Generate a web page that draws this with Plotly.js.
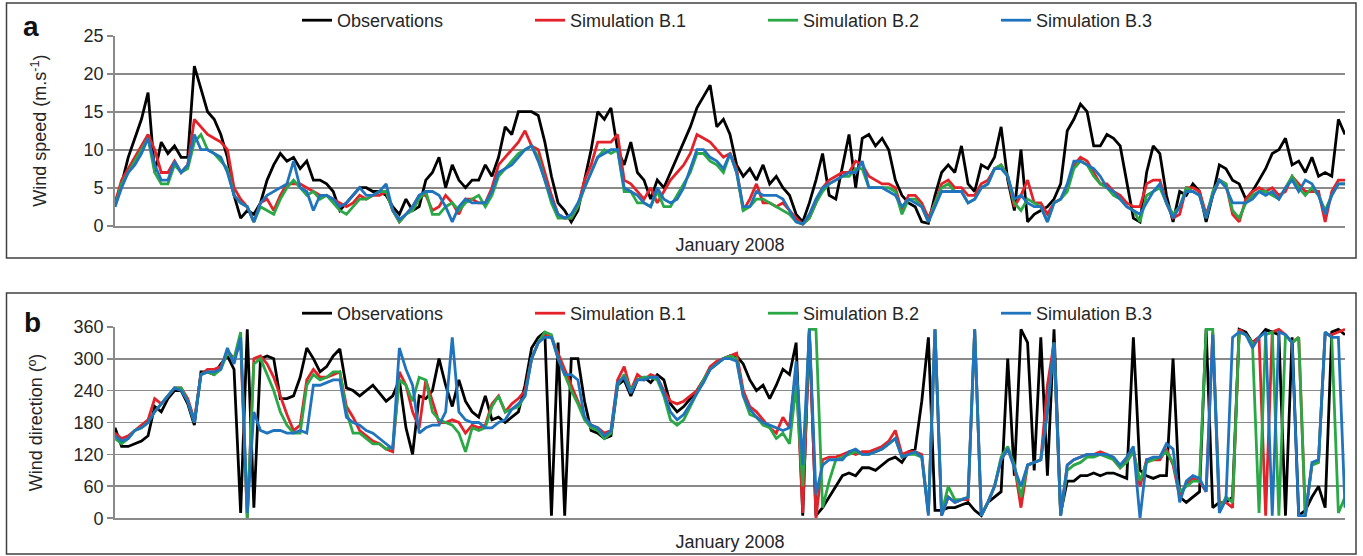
<!DOCTYPE html>
<html>
<head>
<meta charset="utf-8">
<script src="https://cdn.plot.ly/plotly-3.0.1.min.js"></script>
<style>
  html, body { margin: 0; padding: 0; background: #fff; }
  #chart { width: 1363px; height: 556px; }
</style>
</head>
<body>
<div id="chart"></div>
<script>
// Hourly station record for January 2008, sampled every 4 hours.
const seriesNames = ['Observations', 'Simulation B.1', 'Simulation B.2', 'Simulation B.3'];

// Wind speed (m/s)
const speedObs = [3,5.5,9,11.5,14,17.5,7,11,9.5,10.5,9,9,21,18,15,14,12,9,4,1,2,1.5,3,6,8,9.5,8.5,9,7.5,8.5,6,6,5.5,4.5,2,3,4,5,5,4.5,4.5,4,2.5,1.5,3.5,2,2.5,6,7,9,5,8,6,5,6,6,8,6.5,9,13,12,15,15,15,14.5,11,6.5,3,2,0.5,2,6,10,15,14,15.5,10,8,11,7,6,3.5,6,5,7,9,11,13,15.5,17,18.5,13,14,12,8,6.5,7.5,6,8,5.5,6.5,5,4,1.5,0.5,3,6,9.5,4,3.5,8,12,5,11.5,12,10.5,11.5,10,6,4,3,2.5,0.5,0.3,4,7,8,7,10.5,5.5,4.5,8,7.5,9,13,6,2,10,0.5,1.5,2,2.5,3.5,5.5,12.5,14,16,15,10.5,10.5,12,11.5,10.5,6,1,0.5,7,10.5,9.5,4,0.5,4.5,4,5.5,4.5,0.5,4,8,7.5,6,5.5,3.5,4.5,6,7.5,9.5,10,11.5,8,8.5,7,9,6.5,7,6.5,14,12];
const speedB1 = [3,6,7.5,9,10.5,12,10,7,7,8.5,7,8,14,13,12,11.5,11,10,5,3.5,2.5,0.5,3,3.5,2,4,5.5,5.5,5.5,5,4.5,4,4,3.5,3,2.5,3,4,3.5,4,4,4.5,2,0.5,1.5,2.5,4,4,2,2.5,4,3,1.5,3.5,3.5,3,3,5,8,9,10,11,12.5,10.5,10,7,4,1.5,1,1,2.5,6,8,11,11,11,12,6,5.5,4.5,3.5,5,3,4.5,6,7,8,9.5,12,11.5,11,10,9,9.5,7.5,2,3.5,5.5,3,3,2.5,3,2,1,0.2,1,3,5,6,6.5,7,7,8.5,8,6.5,6,5.5,5.5,5,2,4,4,3,1,3,5.5,6,5,5,4,4,5.5,6,7.5,8,6.5,2.5,4,6,3,3,1.5,3,3.5,5,8,9,8.5,7,5.5,5.5,4.5,4,3,2.5,2.5,5.5,6,6,3,1,1.5,5,5,4.5,1.5,4,6,5.5,1.5,0.5,3.5,4.5,5,4.5,5,4,4.5,6.5,5.5,4.5,4.5,4.5,0.5,4.5,6,6];
const speedB2 = [2.5,5.5,7,8.5,10,11.5,7,5.5,5.5,8,7,7.5,11,12,10,9.5,8.5,7.5,4,3,2.5,0.5,2.5,2,1.5,3.5,5,6,5,4,4.5,3.5,4,3,2,1.5,2.5,3.5,3.5,4,4.5,4.5,2,0.5,1.5,2,3.5,4.5,1.5,1.5,2.5,3,2,3,3.5,4,2.5,4,6.5,7.5,8.5,9.5,10,10.5,9,6,3,1,1,1,2.5,5,7,9,10,9.5,10,4.5,4.5,3,3,2.5,4.5,2.5,2.5,4,5.5,7,9.5,9.5,8.5,8,7,9.5,7,2,2.5,3.5,3.5,3,2.5,2,1.5,0.5,0.2,1,3,4.5,5.5,6,6.5,6.5,7.5,7.5,5,5,5,5,4.5,1.5,3.5,3.5,2.5,0.5,3,5,5.5,4.5,4.5,3,3.5,5,5.5,7.5,8,6.5,3,2,3.5,3,2.5,0.5,3,3.5,4.5,7.5,8.5,8,6.5,5.5,5,4,3.5,2.5,2,0.5,4,4.5,5,3,1.5,2.5,5,4.5,4,1,4.5,6,5.5,2,1,3,4,4.5,4.5,4,3.5,5,6.5,5,4,5,4,2,4,5.5,5.5];
const speedB3 = [2.5,5,7,8,9.5,11.5,8,6,6,8.5,7,8,12,10,10,9.5,9,7,4,3,2.5,0.5,3,4,4.5,5,5.5,8.5,5,4.5,2,4,4,3.5,2.5,3,4,5,4,4,4.5,5.5,2,0.8,1.5,2.5,4,4.5,4.5,4,2.5,0.5,2.5,3.5,3,3,3,4.5,7,7.5,8,9,10,10.5,8.5,6,3.5,1.5,1,1.5,3,5,7,9,9.5,10,10,5,4.5,4,3,2.5,5,3.5,3,3.5,5,7.5,10,10,9,8.5,7.5,9.5,7,2.5,2.5,4.5,4,4,4,3.5,2,0.5,0.2,1.5,3.5,5,5.5,6,6.5,7,7,8.5,5,5,5,4.5,4,2.5,3.5,3,2.5,0.5,2.5,4.5,4.5,4.5,4.5,3,3.5,5,5.5,7.5,7.5,6.5,3.5,4,3,2.5,2.5,0.5,3,3.5,5.5,8.5,8.5,8,7.5,6.5,5,4.5,3.5,2.5,2,1.5,3,4.5,5.5,3,1,2.5,4.5,4.5,4,1,4,6,5,3,3,3,3.5,4.5,4,4.5,3.5,5,6,4.5,6,5.5,4,1.5,4,5.5,5.5];

// Wind direction (degrees)
const dirObs = [170,135,135,140,145,155,210,200,225,240,240,215,175,275,275,270,290,305,280,10,355,20,300,305,300,225,225,230,265,320,300,275,285,305,318,245,240,230,240,250,235,220,230,260,170,120,230,225,240,300,250,210,260,220,200,190,230,185,190,180,190,200,250,320,340,350,5,330,5,300,300,220,165,160,150,155,250,260,230,260,265,255,270,260,215,200,210,225,240,260,280,290,300,305,305,290,260,240,250,225,250,280,270,330,5,350,5,20,40,60,80,85,80,95,95,90,100,110,115,105,125,130,220,340,15,15,20,20,25,30,15,5,30,40,50,300,80,355,330,90,340,80,355,10,70,70,80,80,85,80,85,85,80,75,340,90,80,75,80,80,300,40,30,40,50,355,20,30,30,40,355,350,330,340,355,350,345,5,340,5,15,40,60,20,350,355,345];
const dirB1 = [160,150,155,165,175,185,225,215,230,245,245,225,185,270,280,280,285,315,300,330,0,300,305,290,265,230,195,165,175,260,280,265,265,270,275,210,190,165,155,145,140,130,125,275,250,200,170,260,220,180,180,185,180,160,175,170,175,215,230,200,215,225,240,300,330,345,340,310,280,250,220,190,175,170,160,165,260,285,240,270,260,270,265,240,220,215,220,230,240,260,285,295,300,305,310,240,210,200,185,170,160,190,170,280,10,355,0,110,115,115,120,125,120,125,125,130,135,145,165,120,125,125,120,10,355,5,40,30,35,35,355,5,30,60,110,130,100,20,100,105,110,250,330,5,100,110,115,120,120,125,120,110,95,110,130,60,110,110,110,130,100,40,65,75,70,50,350,30,30,20,355,345,330,340,5,350,355,345,330,340,5,100,110,345,345,350,355];
const dirB2 = [150,140,150,165,170,180,200,215,230,245,245,220,180,270,275,270,280,310,300,350,0,290,300,270,240,200,175,160,160,250,270,260,265,275,275,200,160,160,150,140,140,130,135,260,250,220,265,260,200,185,180,175,160,125,170,165,170,210,230,200,205,210,230,300,330,350,345,300,270,240,215,185,170,165,150,160,250,270,240,260,265,265,260,230,185,175,185,210,235,260,280,290,300,305,300,230,195,190,175,170,150,160,140,250,60,355,355,20,70,110,115,120,125,120,120,125,130,140,150,115,120,120,115,10,355,10,60,35,35,40,355,5,30,60,115,135,100,40,100,105,110,200,330,5,90,100,105,115,115,120,115,110,95,105,125,70,105,110,115,125,105,50,60,70,70,355,355,15,40,30,350,345,330,10,345,350,5,345,330,340,5,100,105,350,340,10,40];
const dirB3 = [155,145,150,165,170,180,200,215,230,245,240,220,180,270,275,275,280,320,290,340,10,200,165,160,165,165,160,160,165,160,250,250,255,260,260,190,180,175,165,160,150,140,130,320,280,250,160,170,175,175,200,340,200,185,180,180,170,170,180,185,205,215,230,300,330,340,340,300,270,270,260,190,175,170,155,165,255,265,235,260,260,265,265,235,200,185,195,215,235,255,280,290,300,300,295,230,205,190,180,175,170,165,170,295,100,355,45,100,110,110,110,125,130,120,120,125,130,140,150,115,120,125,115,5,355,5,40,30,35,40,355,5,30,60,110,130,95,60,100,105,110,200,330,5,100,110,115,120,120,120,120,115,100,115,135,0,110,115,115,140,130,30,70,80,75,50,345,10,35,340,350,345,320,340,350,5,350,345,330,5,5,105,110,350,340,340,20];

// Time axis in hours since 1 January 2008 00:00
const hours = speedObs.map((_, k) => 4 * k);

const colors = ['#000000', '#e4222a', '#2aa845', '#1f74bd'];
const speedSeries = [speedObs, speedB1, speedB2, speedB3];
const dirSeries = [dirObs, dirB1, dirB2, dirB3];

const traces = [];
speedSeries.forEach((vals, k) => {
  traces.push({
    type: 'scatter', mode: 'lines', x: hours, y: vals, name: seriesNames[k],
    xaxis: 'x', yaxis: 'y', legend: 'legend',
    line: { color: colors[k], width: 2.8 }, hoverinfo: 'skip'
  });
});
dirSeries.forEach((vals, k) => {
  traces.push({
    type: 'scatter', mode: 'lines', x: hours, y: vals, name: seriesNames[k],
    xaxis: 'x2', yaxis: 'y2', legend: 'legend2',
    line: { color: colors[k], width: 2.8 }, hoverinfo: 'skip'
  });
});

const W = 1363, H = 556;
const FONT = 'Liberation Sans, Arial, sans-serif';
const TXT = '#262626';
const GRID = '#8a8a8a';
const px = v => v / W;
const py = v => 1 - v / H;

const xBase = {
  domain: [px(115), px(1345)], range: [0, 744], fixedrange: true,
  showticklabels: false, ticks: '', showgrid: false, zeroline: false,
  showline: true, linecolor: GRID, linewidth: 1.8
};
const yBase = {
  fixedrange: true, ticks: 'outside', ticklen: 6, tickwidth: 1.8, tickcolor: GRID,
  showline: true, linecolor: GRID, linewidth: 1.8,
  showgrid: true, gridcolor: GRID, gridwidth: 1.8, zeroline: false,
  tickfont: { size: 18, color: TXT }
};
const legendBase = {
  orientation: 'h', xanchor: 'left', yanchor: 'middle', x: px(297),
  entrywidth: 188, entrywidthmode: 'pixels', bgcolor: 'rgba(0,0,0,0)',
  font: { size: 18, color: TXT, family: FONT }, traceorder: 'normal'
};

const layout = {
  width: W, height: H, margin: { l: 0, r: 0, t: 0, b: 0 },
  paper_bgcolor: '#ffffff', plot_bgcolor: 'rgba(0,0,0,0)',
  font: { family: FONT, size: 18, color: TXT },
  showlegend: true,
  xaxis: Object.assign({}, xBase, {
    anchor: 'y',
    title: { text: 'January 2008', font: { size: 18, color: TXT }, standoff: 12 }
  }),
  yaxis: Object.assign({}, yBase, {
    domain: [py(225.7), py(35.7)], range: [0, 25], tick0: 0, dtick: 5, anchor: 'x',
    title: { text: 'Wind speed (m.s<sup>-1</sup>)', font: { size: 18, color: TXT }, standoff: 32 }
  }),
  xaxis2: Object.assign({}, xBase, {
    anchor: 'y2',
    title: { text: 'January 2008', font: { size: 18, color: TXT }, standoff: 16 }
  }),
  yaxis2: Object.assign({}, yBase, {
    domain: [py(518.3), py(326.7)], range: [0, 360], tick0: 0, dtick: 60, anchor: 'x2',
    title: { text: 'Wind direction (º)', font: { size: 18, color: TXT }, standoff: 26 }
  }),
  legend: Object.assign({}, legendBase, { y: py(20.5) }),
  legend2: Object.assign({}, legendBase, { y: py(313.5) }),
  shapes: [
    { type: 'rect', xref: 'paper', yref: 'paper', x0: px(6.5), x1: px(1356), y0: py(258), y1: py(3),
      line: { color: '#404040', width: 1.5 }, fillcolor: 'rgba(0,0,0,0)', layer: 'below' },
    { type: 'rect', xref: 'paper', yref: 'paper', x0: px(6.5), x1: px(1356), y0: py(554), y1: py(293),
      line: { color: '#404040', width: 1.5 }, fillcolor: 'rgba(0,0,0,0)', layer: 'below' }
  ],
  annotations: [
    { text: '<b>a</b>', xref: 'paper', yref: 'paper', x: px(31), y: py(26), showarrow: false,
      xanchor: 'center', yanchor: 'middle', font: { size: 28, color: '#111', family: FONT } },
    { text: '<b>b</b>', xref: 'paper', yref: 'paper', x: px(32), y: py(322), showarrow: false,
      xanchor: 'center', yanchor: 'middle', font: { size: 28, color: '#111', family: FONT } }
  ]
};

Plotly.newPlot('chart', traces, layout, { staticPlot: true, displayModeBar: false });
</script>
</body>
</html>
